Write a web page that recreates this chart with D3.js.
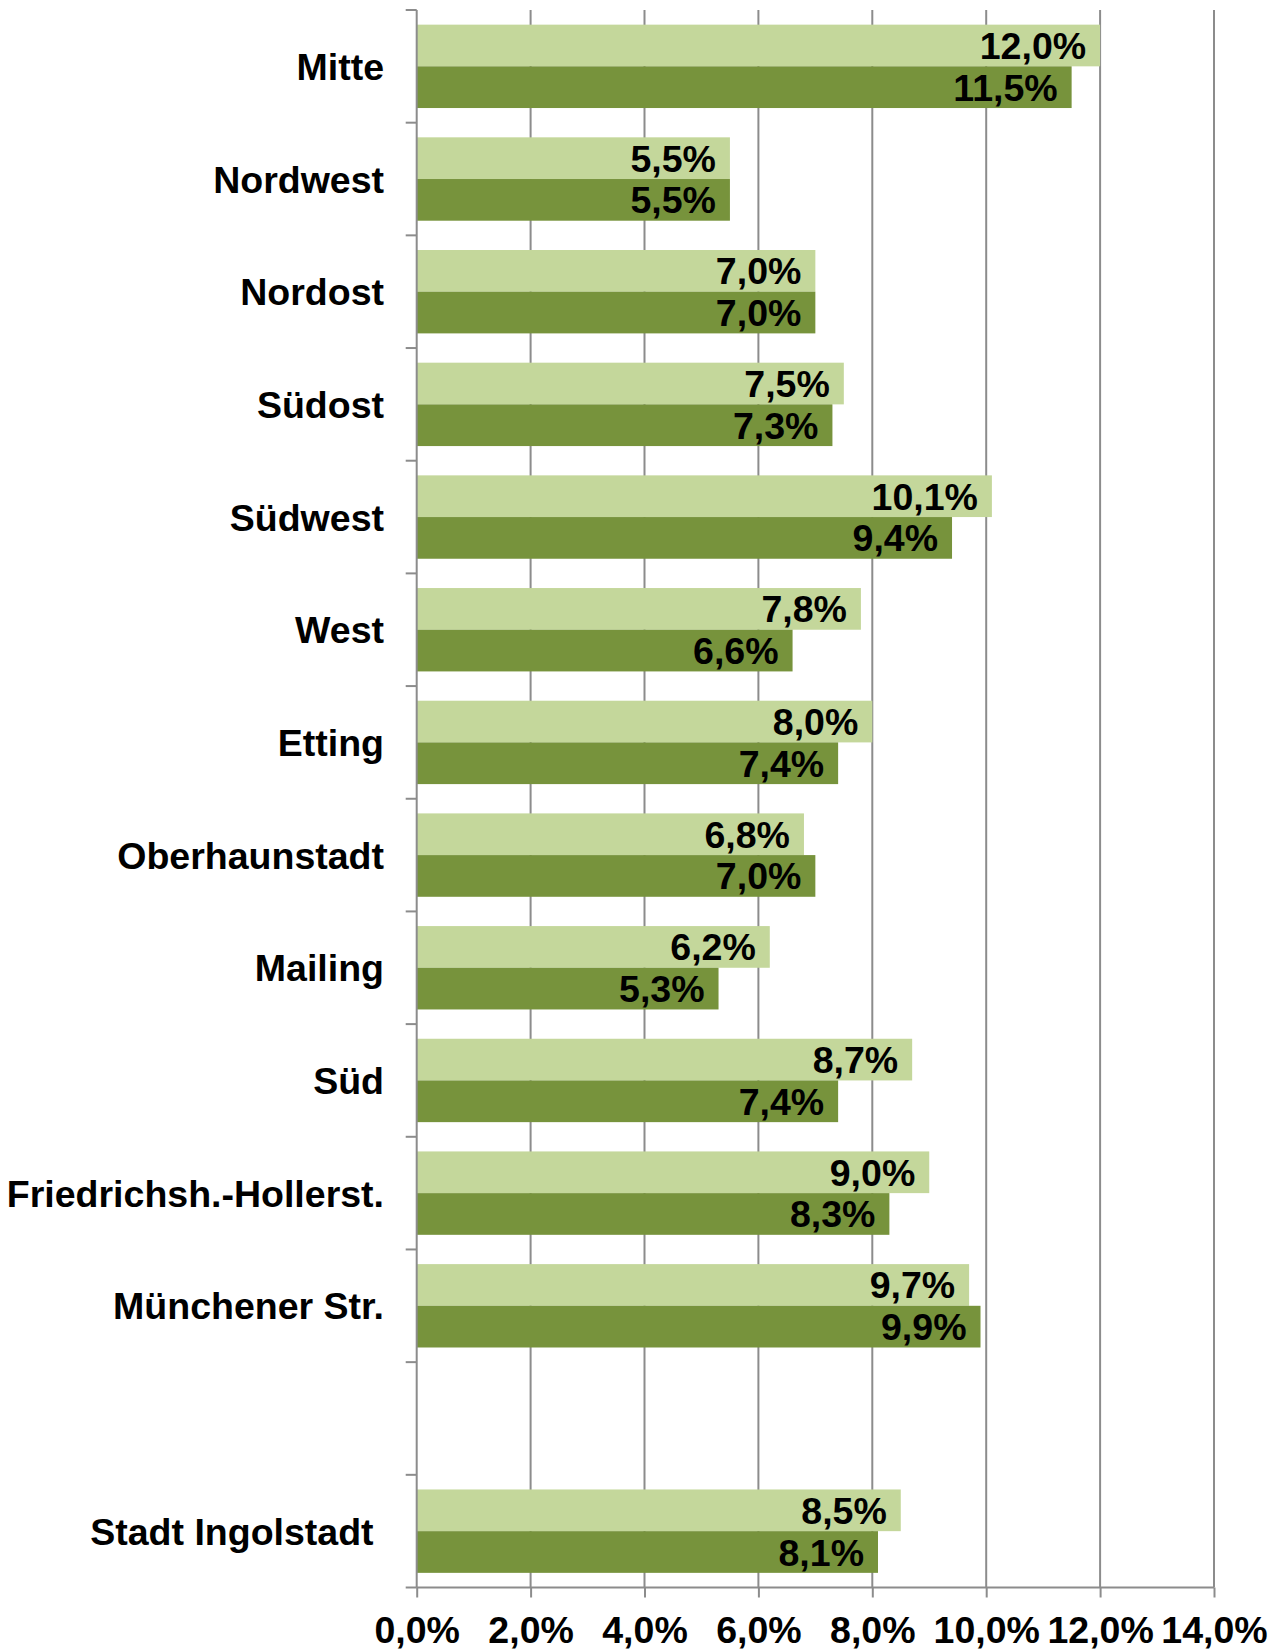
<!DOCTYPE html>
<html>
<head>
<meta charset="utf-8">
<script src="https://cdn.jsdelivr.net/npm/d3@7"></script>
<style>
  body {margin:0; background:#fff;}
  svg text {font-family:"Liberation Sans", Arial, sans-serif; font-weight:bold; fill:#000;}
</style>
</head>
<body>
<svg id=holder></svg>
<script>
// districts top to bottom, "" is the empty gap row before the city total
var categories=["Mitte","Nordwest","Nordost","Südost","Südwest","West","Etting","Oberhaunstadt","Mailing","Süd","Friedrichsh.-Hollerst.","Münchener Str.","","Stadt Ingolstadt\u00A0"];
var series1=[12.0,5.5,7.0,7.5,10.1,7.8,8.0,6.8,6.2,8.7,9.0,9.7,null,8.5];
var series2=[11.5,5.5,7.0,7.3,9.4,6.6,7.4,7.0,5.3,7.4,8.3,9.9,null,8.1];
var xticks=[0,2,4,6,8,10,12,14];
var colors=['#c4d79b','#77933c'];

var width=1279;
var height=1651;
var padding_left=416.7;
var padding_right=65;
var padding_top=10;
var padding_bottom=63.5;
var font_size=37.5;

var svg=d3.select('#holder').attr('width',width).attr('height',height);
var gg=svg.append('g');

var xscale=d3.scaleLinear().domain([0,14]).range([padding_left,width-padding_right]);
var yscale=d3.scaleBand().domain(categories).range([padding_top,height-padding_bottom]).paddingInner(0.26).paddingOuter(0.13);
var y_outer=d3.scaleBand().domain(categories).range([padding_top,height-padding_bottom]);
var subscale=d3.scaleBand().domain([0,1]).range([0,yscale.bandwidth()]);

var grid_color='#8c8c8c';

// vertical gridlines
gg.selectAll('line.grid').data(xticks.slice(1)).enter().append('line')
  .attr('x1',function(d) {return xscale(d);})
  .attr('x2',function(d) {return xscale(d);})
  .attr('y1',padding_top)
  .attr('y2',height-padding_bottom)
  .style('stroke',grid_color).style('stroke-width',2);

// bars
var rows=categories.map(function(c,i) {return {cat:c,vals:[series1[i],series2[i]]};});
rows.forEach(function(r) {
  r.vals.forEach(function(v,k) {
    if (v===null) return;
    var y0=yscale(r.cat)+subscale(k);
    gg.append('rect')
      .attr('x',xscale(0))
      .attr('y',y0)
      .attr('width',xscale(v)-xscale(0))
      .attr('height',subscale.bandwidth())
      .style('fill',colors[k]);
    gg.append('text')
      .attr('x',xscale(v)-14)
      .attr('y',y0+subscale.bandwidth()/2)
      .attr('dy','0.36em')
      .style('text-anchor','end')
      .style('font-size',font_size+'px')
      .text(d3.format('.1f')(v).replace('.',',')+'%');
  });
});

// left axis with tick marks at band boundaries
var bounds=categories.map(function(c) {return y_outer(c);}).concat([height-padding_bottom]);
gg.append('line')
  .attr('x1',xscale(0)).attr('x2',xscale(0))
  .attr('y1',padding_top).attr('y2',height-padding_bottom)
  .style('stroke',grid_color).style('stroke-width',2);
gg.selectAll('line.ytick').data(bounds).enter().append('line')
  .attr('x1',xscale(0)-11).attr('x2',xscale(0))
  .attr('y1',function(d) {return d;}).attr('y2',function(d) {return d;})
  .style('stroke',grid_color).style('stroke-width',2);

// category labels
gg.selectAll('text.cat').data(categories).enter().append('text')
  .attr('x',384)
  .attr('y',function(d) {return y_outer(d)+y_outer.bandwidth()/2;})
  .attr('dy','0.36em')
  .style('text-anchor','end')
  .style('font-size',font_size+'px')
  .text(function(d) {return d;});

// bottom axis
var x_axis=d3.axisBottom().scale(xscale).tickValues(xticks).tickSize(10).tickPadding(19)
  .tickFormat(function(d) {return d3.format('.1f')(d).replace('.',',')+'%';});
var X=gg.append('g')
  .attr('class','x axis')
  .attr('transform','translate(0,'+(height-padding_bottom)+')')
  .call(x_axis);
X.select('.domain').attr('d','M'+xscale(0)+',0H'+xscale(14)).style('stroke',grid_color).style('stroke-width',2);
X.selectAll('.tick line').style('stroke',grid_color).style('stroke-width',2);
X.selectAll('.tick text').style('font-size',font_size+'px').style('font-family','"Liberation Sans", Arial, sans-serif').style('font-weight','bold').attr('fill','#000');
</script>
</body>
</html>
